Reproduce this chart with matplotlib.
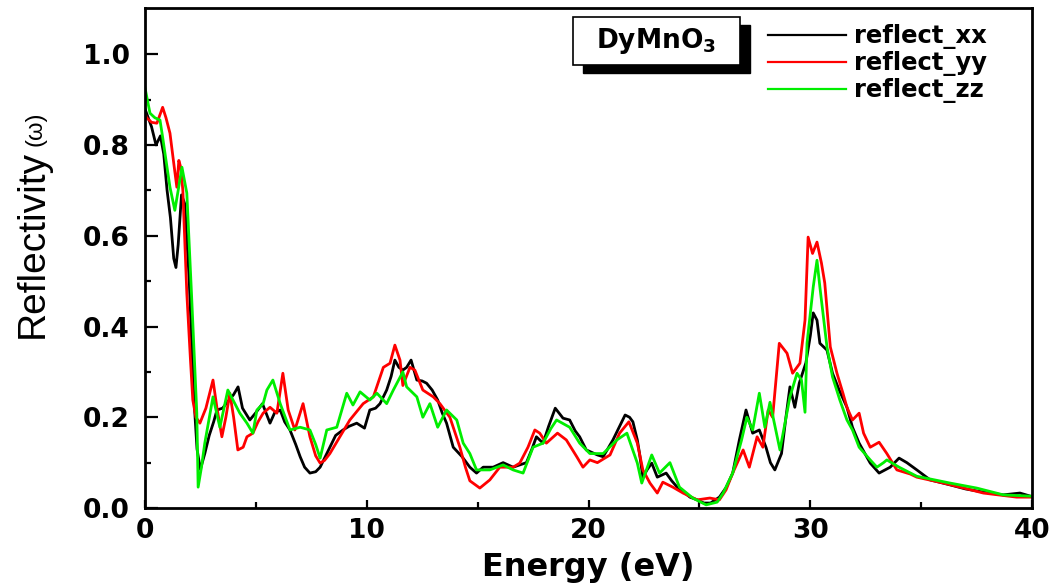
import matplotlib
matplotlib.use("Agg")
import matplotlib.pyplot as plt
from matplotlib.patches import Rectangle

# reflect_xx (black)
e_xx = [0.0, 0.15, 0.3, 0.5, 0.7, 0.85, 1.0, 1.15, 1.3, 1.4, 1.5, 1.65, 1.8, 2.0, 2.2, 2.35, 2.5, 2.7,
        2.9, 3.1, 3.25, 3.5, 3.8, 4.0, 4.2, 4.4, 4.73, 5.0, 5.3, 5.64, 5.85, 6.1, 6.3, 6.54, 6.8, 7.0,
        7.2, 7.44, 7.7, 7.9, 8.1, 8.34, 8.6, 8.93, 9.2, 9.55, 9.9, 10.14, 10.4, 10.6, 10.9, 11.1, 11.27,
        11.45, 11.63, 11.8, 12.0, 12.26, 12.5, 12.7, 12.95, 13.2, 13.4, 13.6, 13.9, 14.3, 14.65, 14.95,
        15.25, 15.7, 16.15, 16.6, 17.2, 17.45, 17.65, 17.95, 18.2, 18.5, 18.85, 19.15, 19.4, 19.6, 19.9,
        20.4, 20.66, 21.1, 21.4, 21.65, 21.85, 22.0, 22.2, 22.3, 22.45, 22.65, 22.85, 23.1, 23.5, 23.75,
        24.0, 24.3, 24.57, 24.9, 25.2, 25.5, 25.9, 26.2, 26.5, 26.8, 27.1, 27.4, 27.7, 28.0, 28.2, 28.4,
        28.7, 28.9, 29.08, 29.3, 29.5, 29.8, 30.0, 30.13, 30.3, 30.43, 30.75, 31.0, 31.3, 31.65, 31.9,
        32.2, 32.7, 33.1, 33.6, 34.0, 34.35, 34.8, 35.4, 36.3, 37.0, 37.8, 38.7, 39.45, 40.0]
r_xx = [0.88, 0.86, 0.84, 0.80, 0.82, 0.78, 0.70, 0.64, 0.55, 0.53, 0.58, 0.69, 0.67, 0.50, 0.25, 0.13,
        0.085, 0.12, 0.16, 0.19, 0.216, 0.22, 0.238, 0.25, 0.267, 0.22, 0.194, 0.21, 0.23, 0.187, 0.21,
        0.216, 0.19, 0.172, 0.14, 0.113, 0.09, 0.077, 0.08, 0.09, 0.11, 0.134, 0.16, 0.172, 0.18, 0.187,
        0.176, 0.216, 0.22, 0.23, 0.26, 0.29, 0.326, 0.31, 0.304, 0.31, 0.326, 0.282, 0.28, 0.275, 0.26,
        0.238, 0.21, 0.187, 0.134, 0.113, 0.09, 0.077, 0.09, 0.09, 0.1, 0.09, 0.1, 0.13, 0.157, 0.143,
        0.18, 0.22, 0.198, 0.194, 0.17, 0.157, 0.128, 0.117, 0.113, 0.15, 0.18, 0.205, 0.2, 0.19, 0.15,
        0.12, 0.068, 0.085, 0.099, 0.068, 0.077, 0.06, 0.046, 0.035, 0.024, 0.018, 0.011, 0.011, 0.024,
        0.045, 0.077, 0.15, 0.216, 0.165, 0.172, 0.134, 0.1, 0.084, 0.12, 0.2, 0.267, 0.222, 0.275, 0.32,
        0.38, 0.43, 0.414, 0.363, 0.348, 0.297, 0.26, 0.222, 0.178, 0.143, 0.099, 0.077, 0.09, 0.11, 0.1,
        0.084, 0.062, 0.051, 0.042, 0.035, 0.029, 0.033, 0.025]

# reflect_yy (red)
e_yy = [0.0, 0.08, 0.3, 0.54, 0.8, 0.95, 1.13, 1.3, 1.44, 1.53, 1.62, 1.71, 1.89, 2.05, 2.16, 2.3, 2.48,
        2.75, 3.07, 3.25, 3.47, 3.65, 3.83, 4.0, 4.19, 4.43, 4.6, 4.87, 5.1, 5.33, 5.64, 5.95, 6.22, 6.46,
        6.76, 7.13, 7.44, 7.7, 7.9, 8.1, 8.34, 8.79, 9.24, 9.84, 10.3, 10.75, 11.05, 11.27, 11.5, 11.63,
        11.95, 12.17, 12.53, 13.0, 13.3, 13.75, 14.2, 14.45, 14.65, 15.1, 15.55, 16.0, 16.6, 16.9, 17.27,
        17.58, 17.8, 18.1, 18.6, 19.0, 19.47, 19.75, 20.06, 20.4, 20.97, 21.4, 21.82, 22.2, 22.45, 22.77,
        23.1, 23.35, 23.8, 24.26, 24.9, 25.47, 25.9, 26.2, 26.5, 26.97, 27.25, 27.6, 27.86, 28.1, 28.3,
        28.6, 28.95, 29.2, 29.53, 29.76, 29.9, 30.1, 30.3, 30.5, 30.65, 30.9, 31.2, 31.47, 31.65, 31.9,
        32.2, 32.4, 32.7, 33.1, 33.45, 33.9, 34.5, 34.8, 36.0, 37.0, 37.8, 39.3, 40.0]
r_yy = [0.87, 0.86, 0.85, 0.848, 0.883, 0.86, 0.826, 0.76, 0.707, 0.766, 0.75, 0.70, 0.473, 0.33, 0.238,
        0.2, 0.187, 0.22, 0.282, 0.22, 0.157, 0.2, 0.253, 0.2, 0.128, 0.134, 0.157, 0.165, 0.19, 0.209,
        0.222, 0.209, 0.297, 0.216, 0.172, 0.23, 0.157, 0.115, 0.099, 0.105, 0.12, 0.157, 0.194, 0.23,
        0.245, 0.31, 0.319, 0.359, 0.326, 0.27, 0.31, 0.304, 0.26, 0.245, 0.23, 0.2, 0.134, 0.09, 0.06,
        0.044, 0.062, 0.09, 0.09, 0.099, 0.134, 0.172, 0.165, 0.143, 0.165, 0.15, 0.113, 0.09, 0.106, 0.1,
        0.117, 0.165, 0.19, 0.143, 0.084, 0.055, 0.033, 0.057, 0.046, 0.033, 0.018, 0.022, 0.018, 0.04,
        0.077, 0.128, 0.09, 0.157, 0.134, 0.216, 0.2, 0.363, 0.341, 0.297, 0.319, 0.414, 0.597, 0.561,
        0.586, 0.54, 0.496, 0.355, 0.297, 0.253, 0.222, 0.194, 0.209, 0.165, 0.134, 0.145, 0.12, 0.084,
        0.075, 0.068, 0.055, 0.043, 0.033, 0.024, 0.024]

# reflect_zz (green)
e_zz = [0.0, 0.23, 0.45, 0.68, 0.8, 1.0, 1.13, 1.35, 1.5, 1.67, 1.89, 2.1, 2.34, 2.4, 2.55, 2.7, 3.07,
        3.38, 3.74, 3.95, 4.28, 4.6, 4.87, 5.05, 5.33, 5.5, 5.77, 6.1, 6.54, 7.0, 7.44, 7.7, 7.9, 8.2,
        8.65, 9.1, 9.38, 9.7, 10.14, 10.46, 10.9, 11.2, 11.63, 11.8, 12.26, 12.53, 12.85, 13.2, 13.6,
        14.06, 14.35, 14.65, 14.95, 15.55, 16.15, 16.6, 17.05, 17.5, 17.95, 18.3, 18.56, 19.15, 19.6,
        20.06, 20.66, 21.28, 21.73, 22.2, 22.4, 22.85, 23.2, 23.67, 24.1, 24.7, 25.3, 25.8, 26.07, 26.5,
        26.9, 27.14, 27.4, 27.7, 27.95, 28.18, 28.63, 29.08, 29.4, 29.6, 29.76, 29.85, 30.13, 30.3, 30.43,
        30.75, 31.0, 31.33, 31.65, 31.9, 32.2, 32.7, 33.0, 33.3, 33.45, 34.0, 34.8, 36.3, 37.5, 38.7, 40.0]
r_zz = [0.927, 0.87, 0.86, 0.855, 0.817, 0.75, 0.707, 0.656, 0.70, 0.751, 0.694, 0.473, 0.209, 0.046,
        0.09, 0.143, 0.245, 0.178, 0.26, 0.24, 0.209, 0.187, 0.165, 0.216, 0.23, 0.26, 0.282, 0.23, 0.172,
        0.178, 0.172, 0.14, 0.11, 0.172, 0.178, 0.253, 0.227, 0.256, 0.238, 0.253, 0.23, 0.26, 0.3, 0.267,
        0.245, 0.2, 0.23, 0.178, 0.216, 0.194, 0.143, 0.12, 0.084, 0.084, 0.095, 0.084, 0.077, 0.134,
        0.143, 0.175, 0.194, 0.178, 0.143, 0.12, 0.12, 0.15, 0.165, 0.099, 0.055, 0.117, 0.077, 0.1, 0.046,
        0.022, 0.007, 0.013, 0.033, 0.077, 0.15, 0.2, 0.172, 0.253, 0.178, 0.233, 0.128, 0.245, 0.297,
        0.282, 0.211, 0.363, 0.487, 0.546, 0.487, 0.355, 0.289, 0.238, 0.194, 0.172, 0.134, 0.106, 0.09,
        0.1, 0.106, 0.09, 0.07, 0.055, 0.044, 0.029, 0.026]

labels = ["reflect_xx", "reflect_yy", "reflect_zz"]
colors = ["black", "#ff0000", "#00ee00"]

fig = plt.figure(figsize=(10.5, 5.83), dpi=100)
ax = fig.add_axes([0.138, 0.1286, 0.845, 0.857])

for e, r, c, lab in zip([e_xx, e_yy, e_zz], [r_xx, r_yy, r_zz], colors, labels):
    ax.plot(e, r, color=c, lw=2.0, label=lab)

ax.set_xlim(0, 40)
ax.set_ylim(0, 1.101)
ax.set_xticks([0, 10, 20, 30, 40])
ax.set_xticks([5, 15, 25, 35], minor=True)
ax.set_yticks([0.0, 0.2, 0.4, 0.6, 0.8, 1.0])
ax.set_yticks([0.1, 0.3, 0.5, 0.7, 0.9], minor=True)
ax.set_yticklabels(["0.0", "0.2", "0.4", "0.6", "0.8", "1.0"])
for s in ax.spines.values():
    s.set_linewidth(2.0)

ax.tick_params(axis="y", which="major", direction="in", length=9, width=1.6, pad=11)
ax.tick_params(axis="y", which="minor", direction="in", length=4.5, width=1.6)
ax.tick_params(axis="x", which="major", direction="in", length=5.5, width=1.6, pad=7)
ax.tick_params(axis="x", which="minor", direction="in", length=4.5, width=1.6)
for t in ax.get_xticklabels() + ax.get_yticklabels():
    t.set_fontfamily("DejaVu Sans")
    t.set_fontweight("bold")
    t.set_fontsize(19)

leg = ax.legend(loc="upper left", bbox_to_anchor=(0.702, 0.968), frameon=False,
                prop={"family": "DejaVu Sans", "weight": "bold", "size": 17.5},
                handlelength=3.2, handletextpad=0.35, labelspacing=0.08,
                borderpad=0, borderaxespad=0)
for h in leg.get_lines():
    h.set_linewidth(1.6)

# DyMnO3 box with drop shadow
ax.add_patch(Rectangle((0.4938, 0.870), 0.1883, 0.096, transform=ax.transAxes,
                       facecolor="black", edgecolor="black", zorder=5, clip_on=False))
ax.add_patch(Rectangle((0.4825, 0.886), 0.1883, 0.096, transform=ax.transAxes,
                       facecolor="white", edgecolor="black", lw=1.2, zorder=6, clip_on=False))
ax.text(0.5766, 0.934, r"DyMnO$_{\mathbf{3}}$", transform=ax.transAxes, ha="center", va="center",
        fontsize=19, fontweight="bold", family="DejaVu Sans", zorder=7)

fig.text(588 / 1050, 1 - 552 / 583, "Energy (eV)", ha="center", va="top",
         fontsize=23, fontweight="bold", family="DejaVu Sans")
fig.text(33 / 1050, 1 - 244 / 583, "Reflectivity", rotation=90, ha="center", va="center",
         fontsize=28, family="Liberation Sans")
fig.text(35 / 1050, 1 - 129 / 583, "(ω)", rotation=90, ha="center", va="center",
         fontsize=17, family="Liberation Sans")

fig.savefig("out.png", dpi=100)
